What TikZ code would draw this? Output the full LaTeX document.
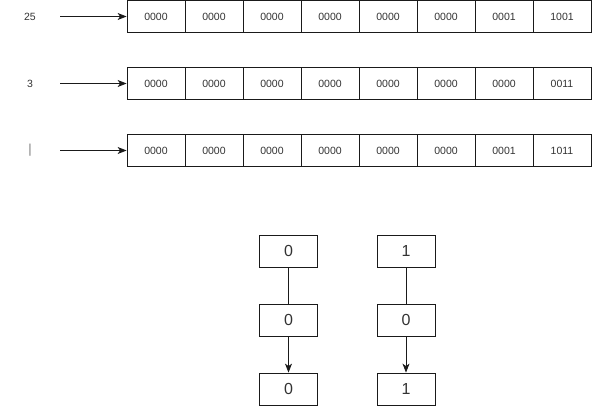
\documentclass[tikz,border=0pt]{standalone}
\usepackage{fontspec}
\setmainfont{Liberation Sans}
\usetikzlibrary{positioning,arrows.meta}
\definecolor{LineGrey}{HTML}{1A1A1A}
\definecolor{TextGrey}{HTML}{333333}
\tikzset{
  cell/.style={draw=LineGrey, line width=0.8pt, minimum width=58pt, minimum height=32pt,
               inner sep=0pt, font=\fontsize{10.5}{12}\selectfont, text=TextGrey},
  bit/.style={cell, font=\fontsize{16}{18}\selectfont},
  varname/.style={minimum width=60pt, inner sep=0pt, font=\fontsize{10.5}{12}\selectfont, text=TextGrey},
  flow/.style={-{Stealth[length=9pt,width=7pt,inset=2.5pt]}, line width=0.8pt, LineGrey},
  link/.style={line width=0.8pt, LineGrey},
}
\begin{document}
\begin{tikzpicture}[x=1pt,y=-1pt]
  \useasboundingbox (0,0) rectangle (592,406);
  % memory words
  \foreach \r/\y/\name/\vals in {1/16.5/25/{0000,0000,0000,0000,0000,0000,0001,1001},
                                 2/83.5/3/{0000,0000,0000,0000,0000,0000,0000,0011},
                                 3/150.5/{\textcolor{gray}{\fontsize{13}{14}\selectfont|}}/{0000,0000,0000,0000,0000,0000,0001,1011}} {
    \node[varname] (v-\r) at (30,\y) {\name};
    \foreach \v [count=\i] in \vals {
      \node[cell] (c-\r-\i) at (127+29+58*\i-58,\y) {\v};
    }
    \draw[flow] (v-\r) -- (c-\r-1.west);
  }
  % bit columns
  \node[bit] (a1) at (288.5,251) {0};
  \node[bit] (a2) at (288.5,320) {0};
  \node[bit] (a3) at (288.5,389) {0};
  \node[bit] (b1) at (406,251) {1};
  \node[bit] (b2) at (406,320) {0};
  \node[bit] (b3) at (406,389) {1};
  \draw[link] (a1) -- (a2); \draw[flow] (a2) -- (a3);
  \draw[link] (b1) -- (b2); \draw[flow] (b2) -- (b3);
\end{tikzpicture}
\end{document}
